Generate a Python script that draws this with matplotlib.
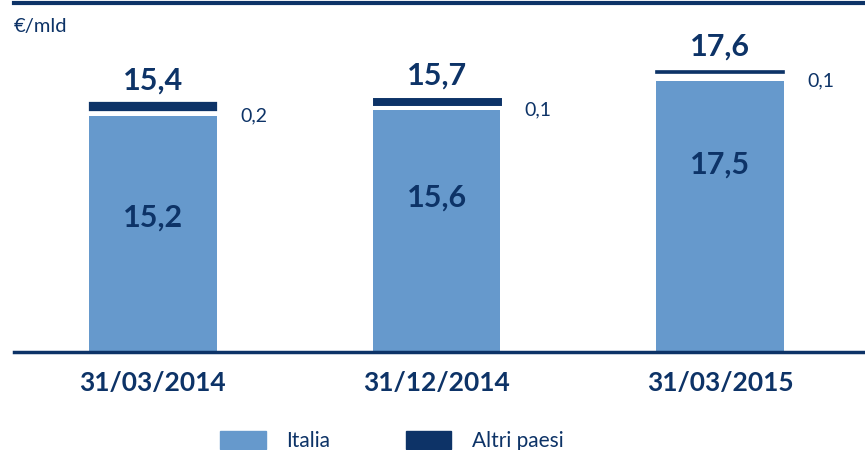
import matplotlib.pyplot as plt
from matplotlib.patches import Patch

# data
dates = ['31/03/2014', '31/12/2014', '31/03/2015']
italia = [15.2, 15.6, 17.5]
altri = [0.2, 0.1, 0.1]
totals = [15.4, 15.7, 17.6]

light = '#6699CC'
navy = '#0D3367'
plt.rcParams['font.family'] = ['Lato', 'DejaVu Sans']

fig = plt.figure(figsize=(8.65, 4.5), dpi=100)
ax = fig.add_axes([0.016, 0.2178, 0.984, 0.7755])

x = list(range(len(dates)))
w = 0.45
gap = 0.5

ax.bar(x, italia, width=w, color=light, zorder=2)
bottoms = [v + gap for v in italia]
# the dark strips are drawn thicker than scale, as in the original
edge_lw = [4.5, 5.0, 1.2]
ax.bar(x, altri, bottom=bottoms, width=[w - 0.02, w - 0.02, w], color=navy, edgecolor=navy,
       linewidth=edge_lw, zorder=2)

# labels
frac = [0.57, 0.64, 0.69]
for i in x:
    ax.text(i, italia[i] * frac[i], f'{italia[i]:.1f}'.replace('.', ','), ha='center', va='center',
            fontsize=22, fontweight='bold', color=navy)
    ax.annotate(f'{totals[i]:.1f}'.replace('.', ','), (i, bottoms[i] + altri[i]), xytext=(0, 18),
                textcoords='offset points', ha='center', va='center', fontsize=22,
                fontweight='bold', color=navy)
    ax.annotate(f'{altri[i]:.1f}'.replace('.', ','), (i + w / 2, italia[i]), xytext=(17, 0),
                textcoords='offset points', ha='left', va='center', fontsize=14, color=navy)

ax.set_xlim(-0.49, 2.51)
ax.set_ylim(0, 22.5)
ax.set_xticks(x)
ax.set_xticklabels(dates, fontsize=19, fontweight='bold', color=navy)
ax.tick_params(axis='x', length=0, pad=14)
ax.set_yticks([])
for s in ['left', 'right']:
    ax.spines[s].set_visible(False)
ax.spines['bottom'].set_color(navy)
ax.spines['bottom'].set_linewidth(2.5)
ax.spines['top'].set_color(navy)
ax.spines['top'].set_linewidth(3)

fig.text(0.016, 0.942, '€/mld', fontsize=14.5, color=navy, va='center')

handles = [Patch(color=light), Patch(color=navy)]
fig.legend(handles, ['Italia', 'Altri paesi'], loc='center', bbox_to_anchor=(0.453, 0.02),
           ncol=2, frameon=False, fontsize=15, handlelength=2.2, handleheight=1.0,
           handletextpad=1.0, columnspacing=3.6, labelcolor=navy)

fig.savefig('out.png', dpi=100)
